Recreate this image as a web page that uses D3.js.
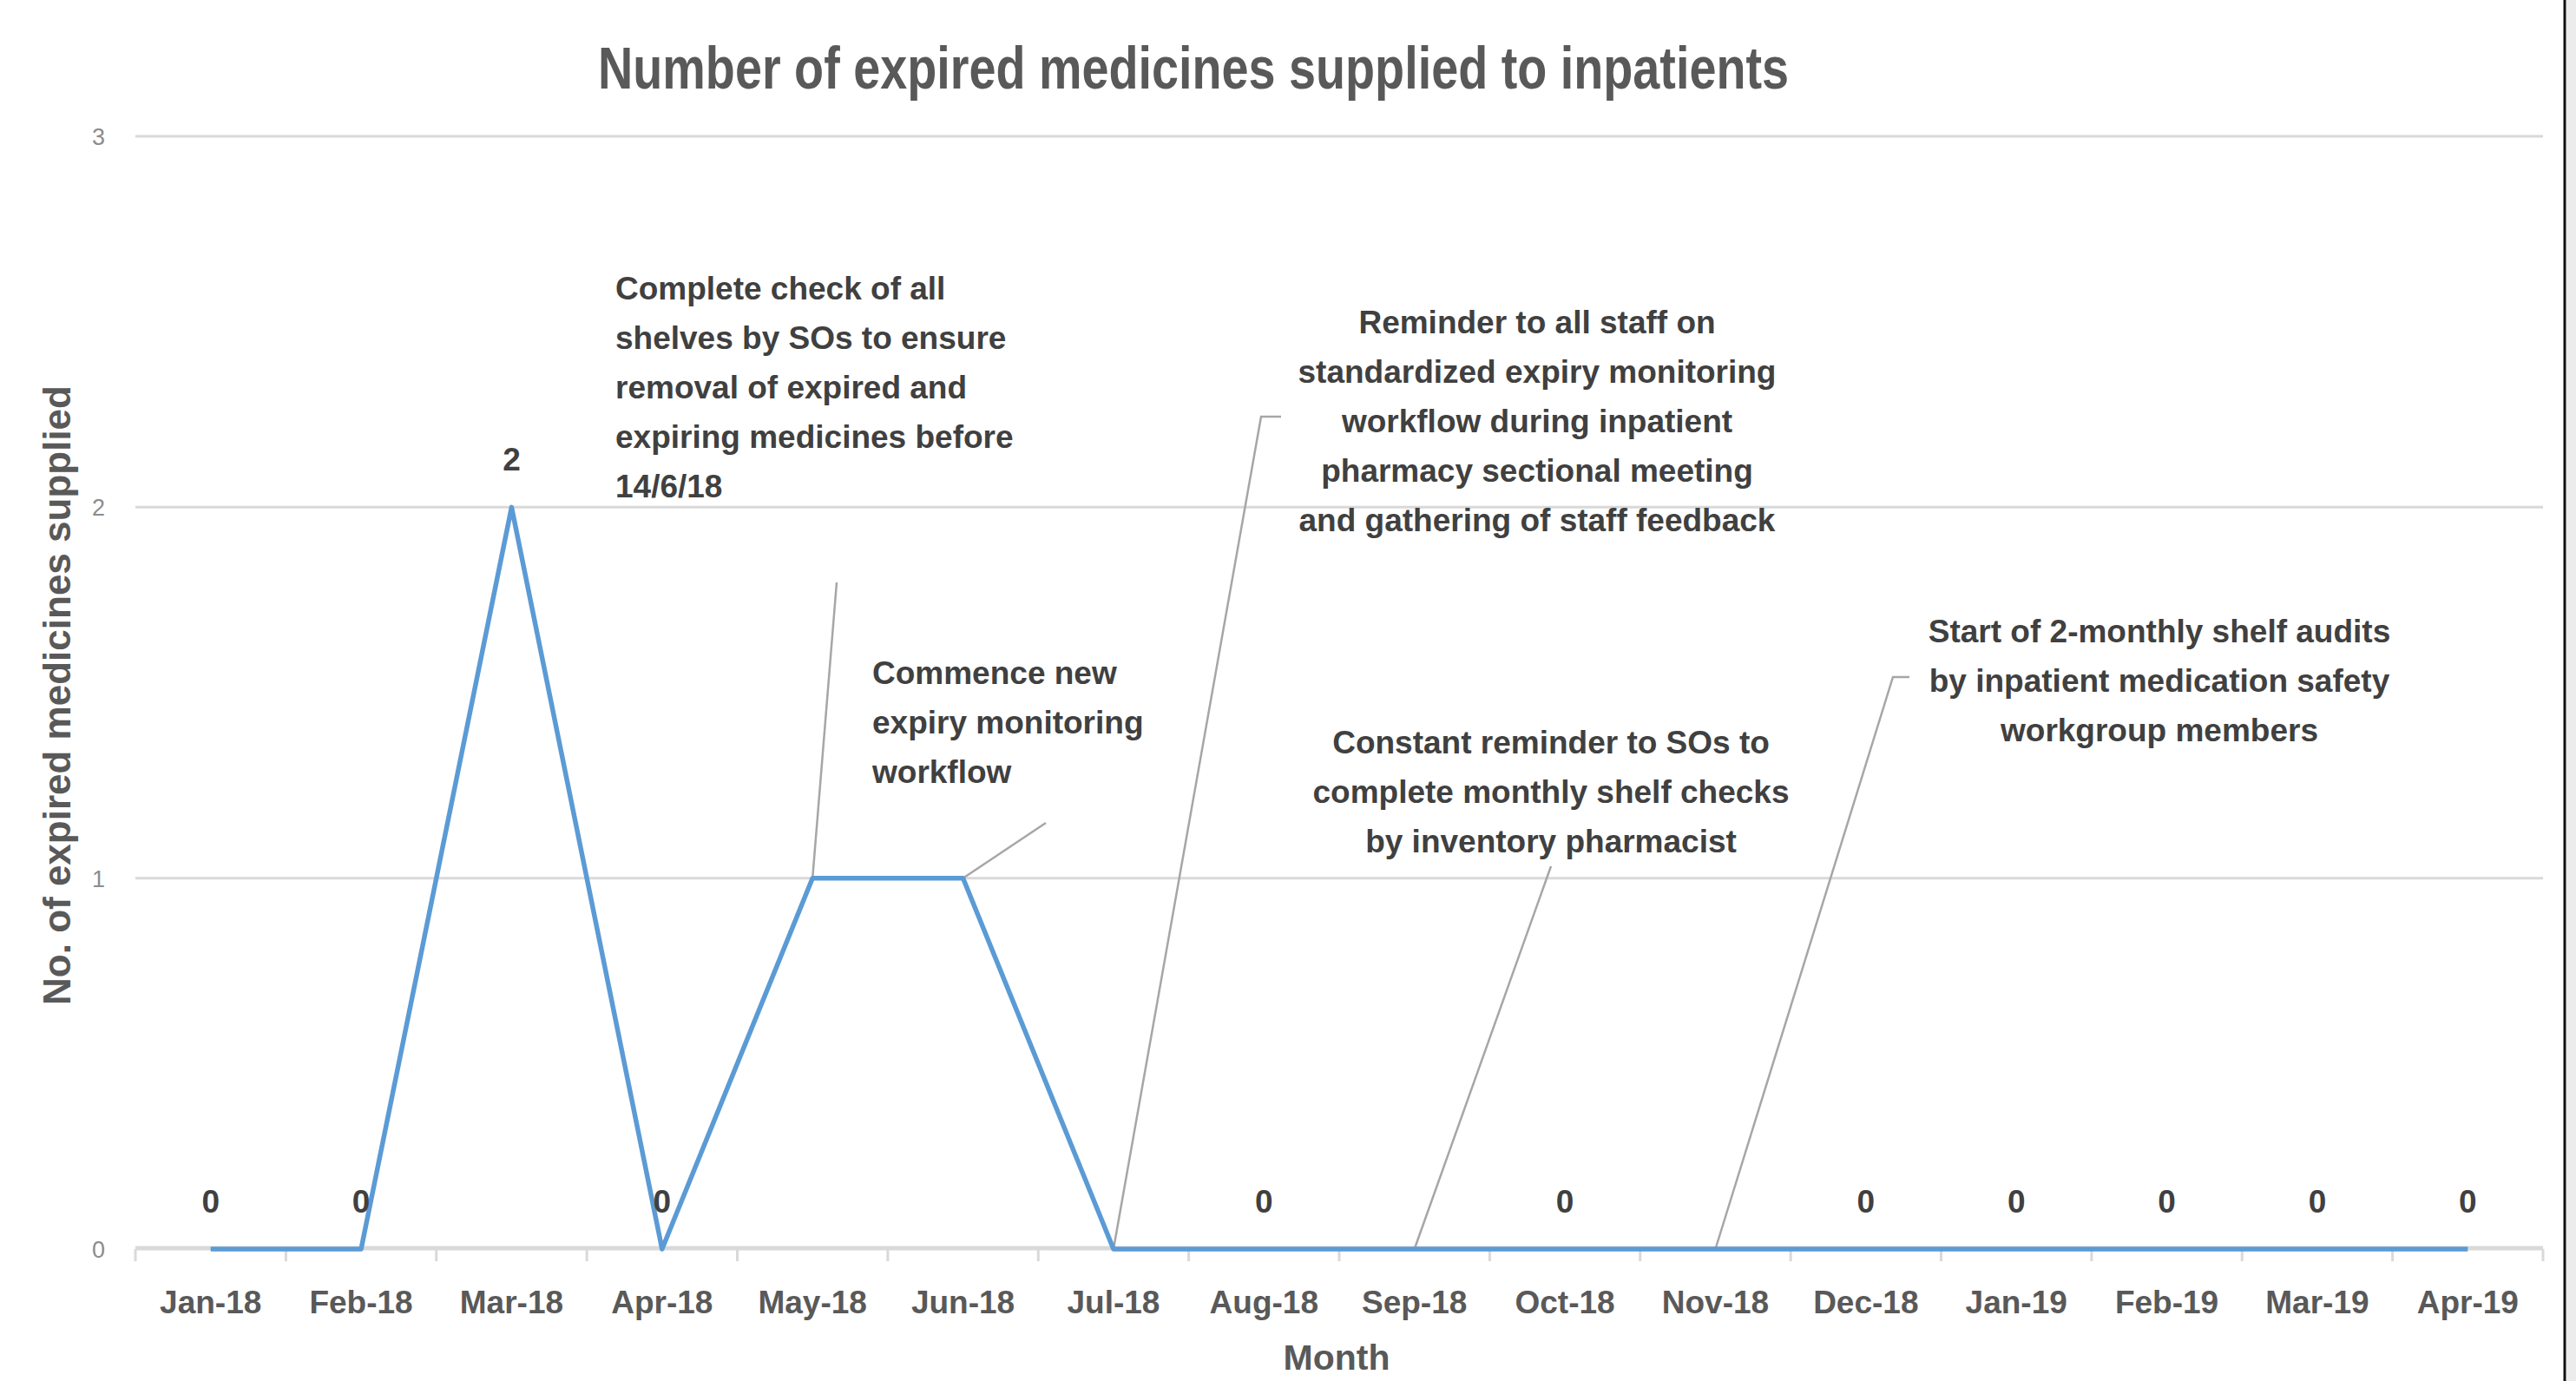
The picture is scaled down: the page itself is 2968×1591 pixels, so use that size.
<!DOCTYPE html>
<html>
<head>
<meta charset="utf-8">
<script src="https://cdn.jsdelivr.net/npm/d3@7/dist/d3.min.js"></script>
<style>
  html, body { margin: 0; padding: 0; background: #ffffff; }
  svg { display: block; }
  text { font-family: "Liberation Sans", Arial, sans-serif; }
</style>
</head>
<body>
<svg id="chart" width="2968" height="1591"></svg>
<script>
// ---------- DATA ----------
const months = ["Jan-18","Feb-18","Mar-18","Apr-18","May-18","Jun-18","Jul-18","Aug-18",
                "Sep-18","Oct-18","Nov-18","Dec-18","Jan-19","Feb-19","Mar-19","Apr-19"];
const expiredCounts = [0, 0, 2, 0, 1, 1, 0, 0, 0, 0, 0, 0, 0, 0, 0, 0];
// data labels shown in the original (false = label not shown)
const shownLabels = [true, true, true, true, false, false, false, true,
                     false, true, false, true, true, true, true, true];
const yTicks = [0, 1, 2, 3];
const chartTitle = "Number of expired medicines supplied to inpatients";
const xTitle = "Month";
const yTitle = "No. of expired medicines supplied";

const annotationTexts = [
  ["Complete check of all", "shelves by SOs to ensure", "removal of expired and", "expiring medicines before", "14/6/18"],
  ["Commence new", "expiry monitoring", "workflow"],
  ["Reminder to all staff on", "standardized expiry monitoring", "workflow during inpatient", "pharmacy sectional meeting", "and gathering of staff feedback"],
  ["Constant reminder to SOs to", "complete monthly shelf checks", "by inventory pharmacist"],
  ["Start of 2-monthly shelf audits", "by inpatient medication safety", "workgroup members"]
];
const annotationMonths = ["May-18", "Jun-18", "Jul-18", "Sep-18", "Nov-18"];

// ---------- LAYOUT ----------
const W = 2968, H = 1591;
const plot = { left: 156, right: 2930, top: 157, bottom: 1439 };
const annLayout = [
  { x: 709,  y: 345, anchor: "start",  lead: [[964, 671]] },
  { x: 1005, y: 788, anchor: "start",  lead: [[1205, 948]] },
  { x: 1771, y: 384, anchor: "middle", lead: [[1453, 480], [1476, 480]] },
  { x: 1787, y: 868, anchor: "middle", lead: [[1787, 998]] },
  { x: 2488, y: 740, anchor: "middle", lead: [[2181, 780], [2200, 780]] }
];
const lineGap = 57;

const svg = d3.select("#chart");
svg.append("rect").attr("width", W).attr("height", H).attr("fill", "#fff");

const x = d3.scaleBand().domain(months).range([plot.left, plot.right]).padding(0);
const y = d3.scaleLinear().domain([0, 3]).range([plot.bottom, plot.top]);
const cx = m => x(m) + x.bandwidth() / 2;

// gridlines
svg.append("g").selectAll("line").data(yTicks.filter(d => d > 0)).join("line")
  .attr("x1", plot.left).attr("x2", plot.right)
  .attr("y1", d => y(d)).attr("y2", d => y(d))
  .attr("stroke", "#d9d9d9").attr("stroke-width", 3);

// y tick labels
svg.append("g").selectAll("text").data(yTicks).join("text")
  .attr("x", 121).attr("y", d => y(d) + 10)
  .attr("text-anchor", "end")
  .attr("font-size", 27).attr("fill", "#8c8c8c")
  .text(d => d);

// x axis (ticks at band boundaries)
const xAxisG = svg.append("g").attr("transform", `translate(0,${plot.bottom})`);
const boundaries = months.map(m => x(m)).concat([plot.right]);
xAxisG.append("line")
  .attr("x1", plot.left).attr("x2", plot.right).attr("y1", -1).attr("y2", -1)
  .attr("stroke", "#d9d9d9").attr("stroke-width", 5);
xAxisG.selectAll("line.tick").data(boundaries).join("line").attr("class", "tick")
  .attr("x1", d => d).attr("x2", d => d).attr("y1", 0).attr("y2", 14)
  .attr("stroke", "#d9d9d9").attr("stroke-width", 3);
xAxisG.selectAll("text").data(months).join("text")
  .attr("x", d => cx(d)).attr("y", 74)
  .attr("text-anchor", "middle")
  .attr("font-size", 37).attr("font-weight", "bold").attr("fill", "#595959")
  .text(d => d);

// leader lines
annLayout.forEach((a, i) => {
  const m = annotationMonths[i];
  const idx = months.indexOf(m);
  const pts = [[cx(m), y(expiredCounts[idx])]].concat(a.lead);
  svg.append("path")
    .attr("d", d3.line()(pts))
    .attr("fill", "none").attr("stroke", "#a6a6a6").attr("stroke-width", 2.5);
});

// series line
const data = months.map((m, i) => ({ m, v: expiredCounts[i], show: shownLabels[i] }));
svg.append("path").datum(data)
  .attr("d", d3.line().x(d => cx(d.m)).y(d => y(d.v)))
  .attr("fill", "none").attr("stroke", "#5b9bd5").attr("stroke-width", 5.5)
  .attr("stroke-linejoin", "round").attr("stroke-linecap", "butt");

// data labels
svg.append("g").selectAll("text").data(data.filter(d => d.show)).join("text")
  .attr("x", d => cx(d.m)).attr("y", d => y(d.v) - 42)
  .attr("text-anchor", "middle")
  .attr("font-size", 37).attr("font-weight", "bold").attr("fill", "#404040")
  .text(d => d.v);

// annotation texts
annLayout.forEach((a, i) => {
  const t = svg.append("text")
    .attr("text-anchor", a.anchor)
    .attr("font-size", 37).attr("font-weight", "bold").attr("fill", "#404040");
  annotationTexts[i].forEach((line, k) => {
    t.append("tspan").attr("x", a.x).attr("y", a.y + k * lineGap).text(line);
  });
});

// title
svg.append("text")
  .attr("x", 1375).attr("y", 102)
  .attr("text-anchor", "middle")
  .attr("font-size", 68).attr("font-weight", "bold").attr("fill", "#595959")
  .attr("textLength", 1372).attr("lengthAdjust", "spacingAndGlyphs")
  .text(chartTitle);

// axis titles
svg.append("text")
  .attr("x", 1540).attr("y", 1578)
  .attr("text-anchor", "middle")
  .attr("font-size", 41).attr("font-weight", "bold").attr("fill", "#595959")
  .text(xTitle);

svg.append("text")
  .attr("transform", "translate(81,801) rotate(-90)")
  .attr("text-anchor", "middle")
  .attr("font-size", 44).attr("font-weight", "bold").attr("fill", "#595959")
  .text(yTitle);

// right border of chart area
svg.append("rect").attr("x", 2957).attr("y", 0).attr("width", 11).attr("height", H).attr("fill", "#ececec");
svg.append("line").attr("x1", 2955).attr("x2", 2955).attr("y1", 0).attr("y2", H)
  .attr("stroke", "#111").attr("stroke-width", 3);
</script>
</body>
</html>
